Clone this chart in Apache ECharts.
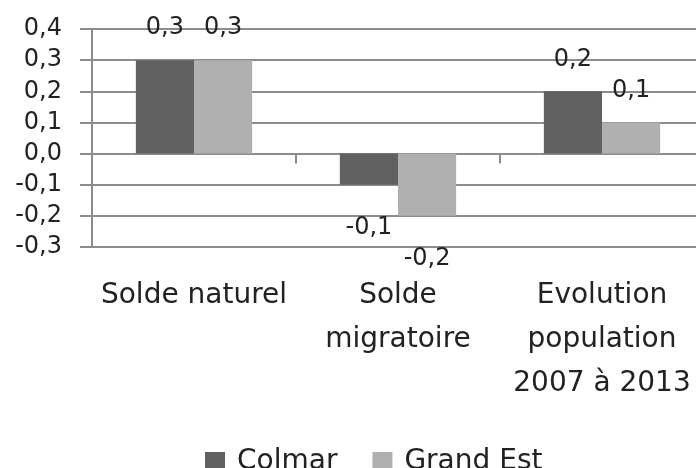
<!DOCTYPE html>
<html>
<head>
<meta charset="utf-8">
<script src="https://cdn.jsdelivr.net/npm/echarts@6/dist/echarts.min.js"></script>
<style>
  html, body { margin: 0; padding: 0; background: #fff; }
  #chart { width: 696px; height: 468px; }
</style>
</head>
<body>
<div id="chart"></div>
<script>
const categories = ["Solde naturel", "Solde\nmigratoire", "Evolution\npopulation\n2007 à 2013"]
const seriesNames = ["Colmar", "Grand Est"]
const colmarValues = [0.3, -0.1, 0.2]
const grandEstValues = [0.3, -0.2, 0.1]
const yTickValues = [-0.3, -0.2, -0.1, 0.0, 0.1, 0.2, 0.3, 0.4]
const yTickLabels = ["-0,3", "-0,2", "-0,1", "0,0", "0,1", "0,2", "0,3", "0,4"]

const FONT = "DejaVu Sans"
const GRID_COLOR = "#8c8c8c"

function tickLabel(v) {
  let idx = yTickValues.findIndex(t => Math.abs(t - v) < 1e-6)
  return idx >= 0 ? yTickLabels[idx] : ""
}

function valueLabel(v) {
  return String(v).replace(".", ",")
}

const chart = echarts.init(document.getElementById("chart"))

const labelStyle = {
  show: true,
  fontFamily: FONT,
  fontSize: 24,
  color: "#222",
  formatter: p => valueLabel(p.value),
}

const option = {
  animation: false,
  grid: {
    left: 92,
    width: 612,
    top: 29,
    bottom: 221,
    outerBoundsMode: "none",
  },
  legend: {
    data: seriesNames,
    top: 448,
    left: 205,
    padding: 0,
    icon: "rect",
    itemWidth: 20,
    itemHeight: 20,
    itemGap: 35,
    textStyle: { fontFamily: FONT, fontSize: 28, color: "#222", padding: [0, 0, 0, 7] },
  },
  xAxis: [
    {
      type: "category",
      data: categories,
      position: "bottom",
      axisLine: { show: false, onZero: false },
      axisTick: { show: false },
      axisLabel: {
        fontFamily: FONT,
        fontSize: 28,
        color: "#222",
        lineHeight: 44,
        margin: 27,
        interval: 0,
      },
    },
    {
      type: "category",
      data: categories,
      position: "top",
      axisLine: { show: false, onZero: true },
      axisTick: {
        show: true,
        inside: true,
        length: 10,
        lineStyle: { color: GRID_COLOR, width: 2 },
      },
      axisLabel: { show: false },
    },
  ],
  yAxis: {
    type: "value",
    min: -0.3,
    max: 0.4,
    interval: 0.1,
    axisLine: { show: true, lineStyle: { color: GRID_COLOR, width: 2 } },
    axisTick: { show: true, length: 12, lineStyle: { color: GRID_COLOR, width: 2 } },
    splitLine: { lineStyle: { color: GRID_COLOR, width: 2 } },
    axisLabel: {
      fontFamily: FONT,
      fontSize: 24,
      color: "#222",
      margin: 30,
      formatter: tickLabel,
    },
  },
  series: [
    {
      name: seriesNames[0],
      type: "bar",
      data: colmarValues,
      barGap: "0%",
      barCategoryGap: "43%",
      itemStyle: { color: "#606060" },
      label: { ...labelStyle, position: "top", distance: 20 },
    },
    {
      name: seriesNames[1],
      type: "bar",
      data: grandEstValues,
      barGap: "0%",
      barCategoryGap: "43%",
      itemStyle: { color: "#b0b0b0" },
      label: { ...labelStyle, position: "top", distance: 20 },
    },
  ],
}

// negative bars get their label under the bar
option.series.forEach(s => {
  s.data = s.data.map(v => v < 0
    ? { value: v, label: { position: "bottom", distance: 31 } }
    : v)
})

chart.setOption(option)
</script>
</body>
</html>
